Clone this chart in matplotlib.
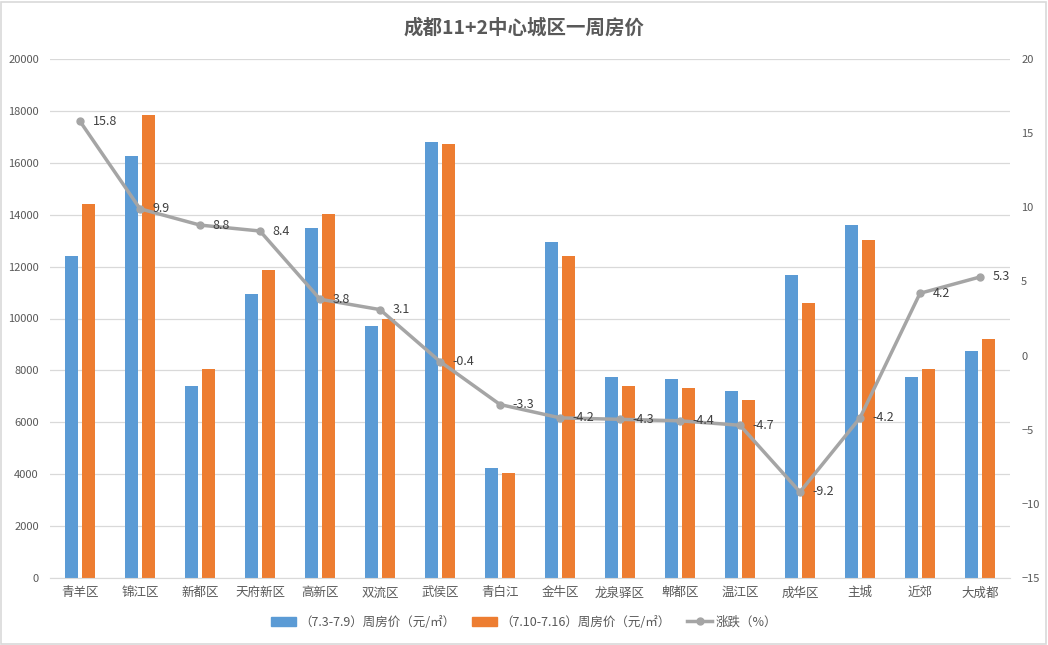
import matplotlib
matplotlib.use("Agg")
import matplotlib.pyplot as plt
import numpy as np
from matplotlib.lines import Line2D
from matplotlib.patches import Patch, Rectangle

plt.rcParams['font.family'] = ['Noto Sans CJK SC', 'DejaVu Sans']

categories = ["青羊区", "锦江区", "新都区", "天府新区", "高新区", "双流区", "武侯区", "青白江",
              "金牛区", "龙泉驿区", "郫都区", "温江区", "成华区", "主城", "近郊", "大成都"]
price_week1 = [12400, 16260, 7400, 10950, 13490, 9710, 16800, 4240,
               12950, 7750, 7670, 7210, 11680, 13600, 7750, 8750]
price_week2 = [14400, 17850, 8050, 11870, 14030, 9980, 16730, 4050,
               12410, 7400, 7320, 6860, 10600, 13030, 8050, 9210]
change_pct = [15.8, 9.9, 8.8, 8.4, 3.8, 3.1, -0.4, -3.3,
              -4.2, -4.3, -4.4, -4.7, -9.2, -4.2, 4.2, 5.3]

label1 = "（7.3-7.9）周房价（元/㎡）"
label2 = "（7.10-7.16）周房价（元/㎡）"
label3 = "涨跌（%）"
title = "成都11+2中心城区一周房价"

BLUE = "#5b9bd5"
ORANGE = "#ed7d31"
GRAY = "#a5a5a5"
TXT = "#595959"

fig = plt.figure(figsize=(10.48, 6.45), dpi=100)
ax = fig.add_axes([50/1048, 1-578/645, 960/1048, (578-59)/645])

x = np.arange(len(categories))
w = 0.22
off = 0.142
ax.bar(x - off, price_week1, width=w, color=BLUE, zorder=2)
ax.bar(x + off, price_week2, width=w, color=ORANGE, zorder=2)
ax.set_xlim(-0.5, len(categories) - 0.5)
ax.set_ylim(0, 20000)
ax.set_yticks(np.arange(0, 20001, 2000))
ax.grid(axis='y', color="#d9d9d9", linewidth=0.9, zorder=0)
ax.set_axisbelow(True)
for s in ['top', 'right', 'left']:
    ax.spines[s].set_visible(False)
ax.spines['bottom'].set_color("#d9d9d9")
ax.set_xticks(x)
ax.set_xticklabels(categories, fontsize=9)
ax.tick_params(axis='both', length=0, colors=TXT)
ax.tick_params(axis='y', pad=8, labelsize=8)
ax.tick_params(axis='x', pad=6)

ax2 = ax.twinx()
ax2.plot(x, change_pct, color=GRAY, linewidth=2.5, marker='o', markersize=5, zorder=3)
ax2.set_ylim(-15, 20)
ax2.set_yticks(np.arange(-15, 21, 5))
for s in ['top', 'right', 'left', 'bottom']:
    ax2.spines[s].set_visible(False)
ax2.tick_params(axis='y', length=0, labelsize=8, colors=TXT, pad=8)
for xi, v in zip(x, change_pct):
    ax2.annotate(f"{v:g}", (xi, v), xytext=(9, 0), textcoords='offset points',
                 ha='left', va='center', fontsize=9, color="#404040")

fig.text(0.5, 1-28/645, title, ha='center', va='center', fontsize=14,
         fontweight='bold', color=TXT)

handles = [Patch(color=BLUE), Patch(color=ORANGE),
           Line2D([0], [0], color=GRAY, linewidth=2.5, marker='o', markersize=5)]
fig.legend(handles, [label1, label2, label3], loc='center', bbox_to_anchor=(0.5, 1-622/645),
           ncol=3, frameon=False, fontsize=9, labelcolor=TXT, handlelength=2.0,
           handleheight=0.7, handletextpad=0.3, columnspacing=1.3)

fig.patches.append(Rectangle((0.001, 0.001), 0.997, 0.996, transform=fig.transFigure,
                             fill=False, edgecolor="#d9d9d9", linewidth=1.2))

fig.savefig("out.png", dpi=100)
